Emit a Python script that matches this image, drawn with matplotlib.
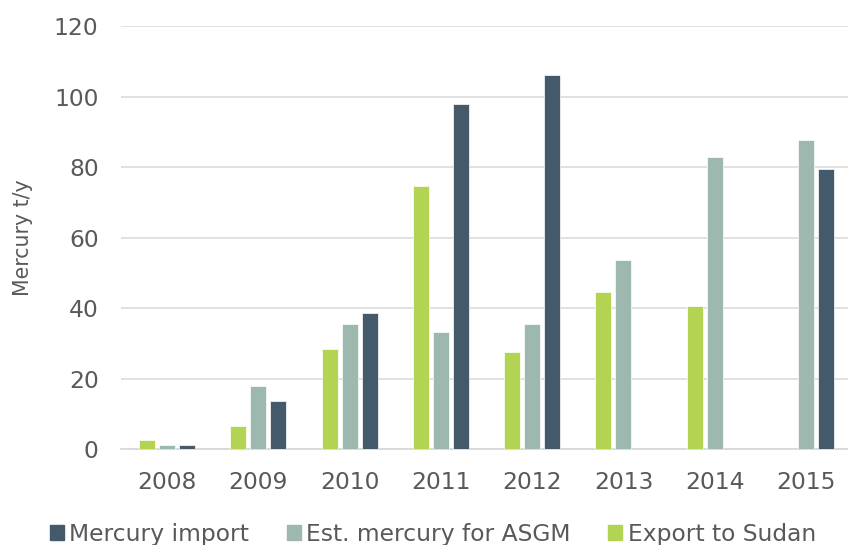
import numpy as np
import matplotlib
matplotlib.use('Agg')
import matplotlib.pyplot as plt
from matplotlib.patches import Patch

# ── Data (t/y) ───────────────────────────────────────────────────────────────
years          = ['2008', '2009', '2010', '2011', '2012', '2013', '2014', '2015']
export_sudan   = [2.5, 6.5, 28.4, 74.5, 27.4, 44.5, 40.7, np.nan]
est_asgm       = [1.1, 17.9, 35.5, 33.2, 35.5, 53.6, 82.9, 87.7]
mercury_import = [1.1, 13.6, 38.5, 97.9, 106.0, np.nan, np.nan, 79.5]

# ── Style ────────────────────────────────────────────────────────────────────
C_IMPORT = '#44596a'
C_ASGM   = '#9db8af'
C_EXPORT = '#b3d453'
C_GRID   = '#d9d9d9'
C_TEXT   = '#595959'

plt.rcParams['font.family'] = ['DejaVu Sans']

fig = plt.figure(figsize=(8.48, 5.45), dpi=100)
ax = fig.add_axes([0.1432, 0.1761, 0.8568, 0.7762])

x = np.arange(len(years))
w = 0.175
step = 0.219
bar_kw = dict(width=w, edgecolor='white', linewidth=0.5, zorder=3)
ax.bar(x - step, export_sudan, color=C_EXPORT, **bar_kw)
ax.bar(x, est_asgm, color=C_ASGM, **bar_kw)
ax.bar(x + step, mercury_import, color=C_IMPORT, **bar_kw)

ax.set_xlim(-0.5, 7.46)
ax.set_ylim(0, 120)
ax.set_yticks(np.arange(0, 121, 20))
ax.set_xticks(x)
ax.set_xticklabels(years)

ax.set_axisbelow(True)
ax.yaxis.grid(True, color=C_GRID, lw=1.1)
for side in ('left', 'right', 'top'):
    ax.spines[side].set_visible(False)
ax.spines['bottom'].set_color(C_GRID)
ax.spines['bottom'].set_linewidth(1.3)

ax.tick_params(axis='both', length=0, labelsize=16.8, colors=C_TEXT)
ax.tick_params(axis='y', pad=16.5)
ax.tick_params(axis='x', pad=15.5)

ax.set_ylabel('Mercury t/y', fontsize=14.8, color=C_TEXT, labelpad=15)

handles = [Patch(color=C_IMPORT), Patch(color=C_ASGM), Patch(color=C_EXPORT)]
labels = ['Mercury import', 'Est. mercury for ASGM', 'Export to Sudan']
fig.legend(handles, labels, loc='center', bbox_to_anchor=(433 / 848, 0.02),
           ncol=3, frameon=False, fontsize=16.8, labelcolor=C_TEXT,
           handlelength=0.6, handleheight=0.6, handletextpad=0.25,
           columnspacing=1.6, borderpad=0, borderaxespad=0)

fig.savefig('out.png', dpi=100)
